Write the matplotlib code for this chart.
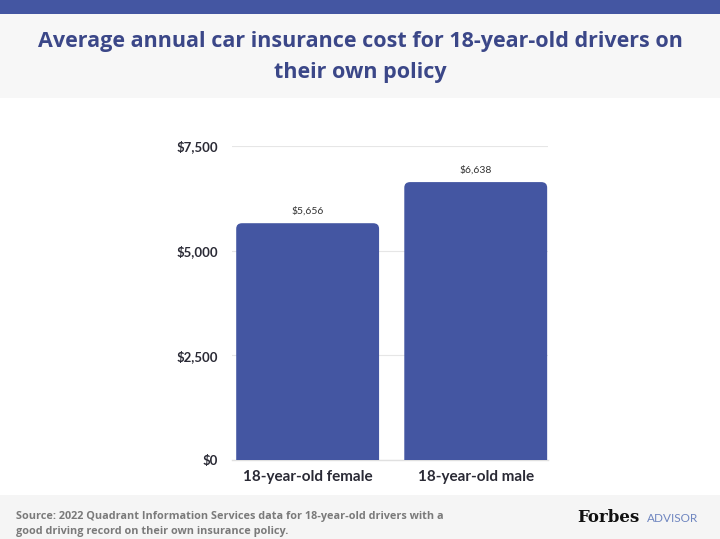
import matplotlib.pyplot as plt
from matplotlib.patches import FancyBboxPatch, Rectangle

categories = ["18-year-old female", "18-year-old male"]
costs = [5656, 6638]
value_labels = ["$5,656", "$6,638"]
y_ticks = [0, 2500, 5000, 7500]
y_tick_labels = ["$0", "$2,500", "$5,000", "$7,500"]

BLUE = "#4456a2"
NAVY = "#3b4788"

fig = plt.figure(figsize=(7.2, 5.39), dpi=100)
fig.patch.set_facecolor("white")

# header band + title area + footer
W, H = 720, 539
fig.add_artist(Rectangle((0, 1 - 14 / H), 1, 14 / H, transform=fig.transFigure,
                         facecolor=BLUE, edgecolor="none"))
fig.add_artist(Rectangle((0, 1 - 98 / H), 1, 84 / H, transform=fig.transFigure,
                         facecolor="#f7f7f7", edgecolor="none"))
fig.add_artist(Rectangle((0, 0), 1, 44 / H, transform=fig.transFigure,
                         facecolor="#f5f5f5", edgecolor="none"))

fig.text(0.5, 1 - 57 / H,
         "Average annual car insurance cost for 18-year-old drivers on\ntheir own policy",
         ha="center", va="center", fontsize=15.5, fontweight="bold", color=NAVY,
         family="Open Sans", linespacing=1.6)

ax = fig.add_axes([232 / W, 1 - 460 / H, (548 - 232) / W, (460 - 146) / H])
ax.set_facecolor("white")
x = range(len(categories))
bars = ax.bar(x, costs, width=0.85, color="none")

# rounded tops, square bottoms (bottom rounding hidden below y=0)
for b in bars:
    p = FancyBboxPatch((b.get_x(), -400), b.get_width(), b.get_height() + 400,
                       boxstyle="round,pad=0,rounding_size=0.035",
                       mutation_aspect=3800, facecolor=BLUE, edgecolor="none",
                       zorder=3)
    ax.add_patch(p)

for xi, c, lab in zip(x, costs, value_labels):
    ax.text(xi, c + 180, lab, ha="center", va="bottom", fontsize=7.5,
            color="#333333", family="Lato")

ax.set_xlim(-0.45, 1.43)
ax.set_ylim(0, 7500)
ax.set_yticks(y_ticks)
ax.set_yticklabels(y_tick_labels, fontsize=9.5, fontweight="bold",
                   color="#2a2a35", family="Lato")
ax.set_xticks(list(x))
ax.set_xticklabels(categories, fontsize=11, fontweight="bold",
                   color="#2a2a35", family="Lato")
ax.tick_params(axis="y", length=0, pad=10)
ax.tick_params(axis="x", length=0, pad=7)
ax.grid(axis="y", color="#e6e6e6", linewidth=0.8, zorder=0)
ax.set_axisbelow(True)
for s in ax.spines.values():
    s.set_visible(False)
ax.axhline(0, color="#e0e0e0", linewidth=1, zorder=1, clip_on=False)

fig.text(16 / W, 1 - 524 / H,
         "Source: 2022 Quadrant Information Services data for 18-year-old drivers with a\n"
         "good driving record on their own insurance policy.",
         ha="left", va="center", fontsize=7.8, color="#7a7a7a", family="Open Sans",
         fontweight="bold", linespacing=1.4)
fig.text(577 / W, 1 - 517 / H, "Forbes", ha="left", va="center", fontsize=12,
         fontweight="bold", family="DejaVu Serif", color="#111111")
fig.text(647 / W, 1 - 518 / H, "ADVISOR", ha="left", va="center", fontsize=8.5,
         family="Lato", color="#6f86c0")

fig.savefig("out.png", dpi=100, facecolor=fig.get_facecolor())
